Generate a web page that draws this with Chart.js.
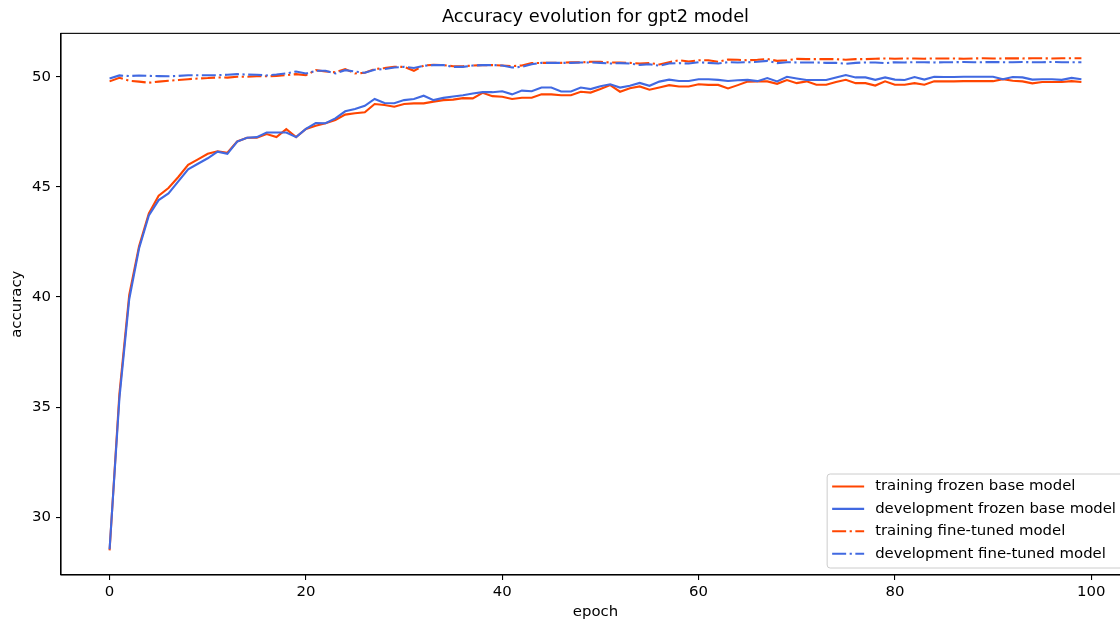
<!DOCTYPE html>
<html>
<head>
<meta charset="utf-8">
<title>Accuracy evolution for gpt2 model</title>
<script src="https://cdn.jsdelivr.net/npm/chart.js@4.4.1/dist/chart.umd.min.js"></script>
<style>
    html, body { margin: 0; padding: 0; background: #fff; overflow: hidden; }
    #wrap { width: 1140px; height: 623px; position: relative; }
</style>
</head>
<body>
<div id="wrap"><canvas id="accChart"></canvas></div>
<script>
// epoch axis
const epochs = [
    0, 1, 2, 3, 4, 5, 6, 7, 8, 9, 10, 11, 12, 13, 14, 15, 16, 17, 18, 19,
    20, 21, 22, 23, 24, 25, 26, 27, 28, 29, 30, 31, 32, 33, 34, 35, 36, 37, 38, 39,
    40, 41, 42, 43, 44, 45, 46, 47, 48, 49, 50, 51, 52, 53, 54, 55, 56, 57, 58, 59,
    60, 61, 62, 63, 64, 65, 66, 67, 68, 69, 70, 71, 72, 73, 74, 75, 76, 77, 78, 79,
    80, 81, 82, 83, 84, 85, 86, 87, 88, 89, 90, 91, 92, 93, 94, 95, 96, 97, 98, 99
]

const trainFrozen = [
    28.5, 35.6, 40.1, 42.3, 43.8, 44.6, 44.95, 45.45, 46.0, 46.25,
    46.5, 46.62, 46.55, 47.06, 47.23, 47.23, 47.4, 47.26, 47.62, 47.26,
    47.63, 47.78, 47.89, 48.04, 48.28, 48.34, 48.39, 48.76, 48.72, 48.64,
    48.76, 48.79, 48.79, 48.87, 48.94, 48.96, 49.03, 49.02, 49.27, 49.12,
    49.09, 48.99, 49.05, 49.05, 49.2, 49.2, 49.16, 49.16, 49.32, 49.28,
    49.44, 49.62, 49.32, 49.48, 49.56, 49.41, 49.51, 49.62, 49.56, 49.56,
    49.66, 49.63, 49.63, 49.47, 49.62, 49.78, 49.79, 49.79, 49.68, 49.85,
    49.71, 49.79, 49.64, 49.64, 49.76, 49.86, 49.71, 49.71, 49.6, 49.79,
    49.64, 49.64, 49.71, 49.64, 49.79, 49.79, 49.79, 49.8, 49.8, 49.8,
    49.8, 49.89, 49.82, 49.79, 49.7, 49.76, 49.76, 49.76, 49.8, 49.76
]

const devFrozen = [
    28.55, 35.4, 39.9, 42.2, 43.7, 44.4, 44.7, 45.25, 45.8, 46.05,
    46.3, 46.6, 46.5, 47.06, 47.23, 47.26, 47.47, 47.47, 47.47, 47.26,
    47.63, 47.9, 47.89, 48.11, 48.43, 48.54, 48.68, 48.99, 48.81, 48.8,
    48.94, 48.99, 49.14, 48.94, 49.04, 49.1, 49.16, 49.24, 49.3, 49.3,
    49.34, 49.2, 49.37, 49.34, 49.51, 49.51, 49.33, 49.33, 49.51, 49.44,
    49.57, 49.66, 49.51, 49.59, 49.72, 49.59, 49.78, 49.87, 49.81, 49.81,
    49.89, 49.89, 49.86, 49.81, 49.84, 49.86, 49.8, 49.94, 49.79, 50.0,
    49.92, 49.85, 49.85, 49.85, 49.97, 50.08, 49.97, 49.97, 49.86, 49.97,
    49.87, 49.85, 49.99, 49.87, 50.0, 49.99, 49.99, 50.0, 50.0, 50.0,
    50.0, 49.89, 49.99, 49.97, 49.87, 49.89, 49.89, 49.86, 49.95, 49.89
]

const trainFine = [
    49.79, 49.95, 49.82, 49.78, 49.73, 49.78, 49.82, 49.85, 49.89, 49.92,
    49.94, 49.97, 49.96, 50.0, 50.0, 50.02, 50.02, 50.04, 50.07, 50.12,
    50.07, 50.3, 50.24, 50.2, 50.35, 50.15, 50.18, 50.35, 50.39, 50.45,
    50.45, 50.27, 50.51, 50.54, 50.53, 50.48, 50.48, 50.51, 50.53, 50.53,
    50.51, 50.48, 50.51, 50.62, 50.63, 50.63, 50.63, 50.66, 50.65, 50.68,
    50.68, 50.65, 50.65, 50.63, 50.6, 50.62, 50.56, 50.66, 50.75, 50.69,
    50.75, 50.75, 50.68, 50.78, 50.77, 50.75, 50.77, 50.81, 50.72, 50.75,
    50.81, 50.8, 50.8, 50.8, 50.8, 50.77, 50.8, 50.8, 50.82, 50.83,
    50.82, 50.83, 50.83, 50.82, 50.83, 50.83, 50.83, 50.82, 50.83, 50.84,
    50.83, 50.83, 50.84, 50.83, 50.84, 50.84, 50.83, 50.84, 50.84, 50.84
]

const devFine = [
    49.92, 50.06, 50.03, 50.06, 50.04, 50.03, 50.02, 50.04, 50.07, 50.07,
    50.07, 50.07, 50.09, 50.12, 50.1, 50.09, 50.06, 50.1, 50.15, 50.24,
    50.15, 50.27, 50.27, 50.15, 50.3, 50.24, 50.18, 50.32, 50.35, 50.42,
    50.45, 50.4, 50.5, 50.53, 50.53, 50.45, 50.45, 50.51, 50.53, 50.53,
    50.51, 50.42, 50.45, 50.57, 50.63, 50.63, 50.63, 50.63, 50.65, 50.65,
    50.63, 50.6, 50.62, 50.6, 50.54, 50.57, 50.5, 50.6, 50.62, 50.6,
    50.66, 50.63, 50.6, 50.66, 50.65, 50.66, 50.68, 50.72, 50.62, 50.66,
    50.65, 50.65, 50.65, 50.63, 50.63, 50.59, 50.63, 50.65, 50.65, 50.62,
    50.66, 50.65, 50.66, 50.66, 50.65, 50.66, 50.66, 50.67, 50.66, 50.66,
    50.67, 50.66, 50.66, 50.67, 50.66, 50.66, 50.67, 50.66, 50.66, 50.66
]

const seriesLabels = [
    "training frozen base model",
    "development frozen base model",
    "training fine-tuned model",
    "development fine-tuned model"
]

const xTicks = [0, 20, 40, 60, 80, 100]
const yTicks = [30, 35, 40, 45, 50]

const ORANGE = "#ff4500"
const BLUE = "#4169e1"
const DASHDOT = [14, 3.5, 2.2, 3.5]
const FONT = "'DejaVu Sans', sans-serif"

function points(ys) {
    return epochs.map((e, i) => ({x: e, y: ys[i]}))
}

function dataSet(label, col, data, dash, order) {
    return {
        label: label,
        borderColor: col,
        backgroundColor: col,
        data: points(data),
        borderWidth: 2.1,
        borderDash: dash,
        pointRadius: 0,
        tension: 0,
        fill: false,
        order: order
    }
}

// box round the plot area, like the matplotlib spines
const framePlugin = {
    id: "frame",
    afterDatasetsDraw(chart) {
        const a = chart.chartArea
        const ctx = chart.ctx
        ctx.save()
        ctx.strokeStyle = "#000"
        ctx.lineWidth = 1.1
        ctx.strokeRect(a.left, a.top, a.right - a.left, a.bottom - a.top)
        ctx.restore()
    }
}

// legend drawn inside the axes, lower right
const boxLegend = {
    id: "boxLegend",
    afterDraw(chart) {
        const a = chart.chartArea
        const ctx = chart.ctx
        ctx.save()
        ctx.font = "14.9px " + FONT
        let maxW = 0
        chart.data.datasets.forEach(ds => {
            maxW = Math.max(maxW, ctx.measureText(ds.label).width)
        })
        const w = 48 + maxW + 7
        const h = 94
        const right = a.right - 7
        const bottom = a.bottom - 7
        const left = right - w
        const top = bottom - h
        ctx.beginPath()
        ctx.roundRect(left, top, w, h, 3)
        ctx.fillStyle = "rgba(255,255,255,0.8)"
        ctx.fill()
        ctx.strokeStyle = "#cccccc"
        ctx.lineWidth = 1
        ctx.stroke()
        chart.data.datasets.forEach((ds, i) => {
            const cy = top + 12.5 + i * 22.4
            ctx.beginPath()
            ctx.setLineDash(ds.borderDash || [])
            ctx.strokeStyle = ds.borderColor
            ctx.lineWidth = ds.borderWidth
            ctx.moveTo(left + 5, cy)
            ctx.lineTo(left + 37, cy)
            ctx.stroke()
            ctx.setLineDash([])
            ctx.fillStyle = "#000"
            ctx.textBaseline = "middle"
            ctx.textAlign = "left"
            ctx.fillText(ds.label, left + 48, cy)
        })
        ctx.restore()
    }
}

const tickFont = {family: FONT, size: 14.9}

new Chart(document.getElementById("accChart").getContext("2d"), {
    type: "line",
    data: {
        datasets: [
            dataSet(seriesLabels[0], ORANGE, trainFrozen, [], 4),
            dataSet(seriesLabels[1], BLUE, devFrozen, [], 3),
            dataSet(seriesLabels[2], ORANGE, trainFine, DASHDOT, 2),
            dataSet(seriesLabels[3], BLUE, devFine, DASHDOT, 1)
        ]
    },
    options: {
        responsive: true,
        maintainAspectRatio: false,
        animation: false,
        layout: {padding: {left: 0, right: 10, top: 0, bottom: 0}},
        plugins: {
            legend: {display: false},
            tooltip: {enabled: false},
            title: {
                display: true,
                fullSize: false,
                text: "Accuracy evolution for gpt2 model",
                color: "#000",
                font: {family: FONT, size: 17.8, weight: "normal"},
                padding: {top: 7, bottom: 5}
            }
        },
        scales: {
            x: {
                type: "linear",
                min: -4.95,
                max: 103.95,
                afterBuildTicks: s => { s.ticks = xTicks.map(v => ({value: v})) },
                afterFit: s => { s.height = 48 },
                ticks: {color: "#000", font: tickFont, padding: 3, maxRotation: 0},
                grid: {drawOnChartArea: false, color: "#000", lineWidth: 1.1, tickLength: 5},
                border: {display: true, color: "#000", width: 1.1},
                title: {
                    display: true, text: "epoch", color: "#000",
                    font: tickFont, padding: {top: 0, bottom: 2}
                }
            },
            y: {
                type: "linear",
                min: 27.38,
                max: 51.97,
                afterBuildTicks: s => { s.ticks = yTicks.map(v => ({value: v})) },
                afterFit: s => { s.width = 61 },
                ticks: {color: "#000", font: tickFont, padding: 5},
                grid: {drawOnChartArea: false, color: "#000", lineWidth: 1.1, tickLength: 5},
                border: {display: true, color: "#000", width: 1.1},
                title: {
                    display: true, text: "accuracy", color: "#000",
                    font: tickFont, padding: {top: 8, bottom: 0}
                }
            }
        }
    },
    plugins: [framePlugin, boxLegend]
});
</script>
</body>
</html>
